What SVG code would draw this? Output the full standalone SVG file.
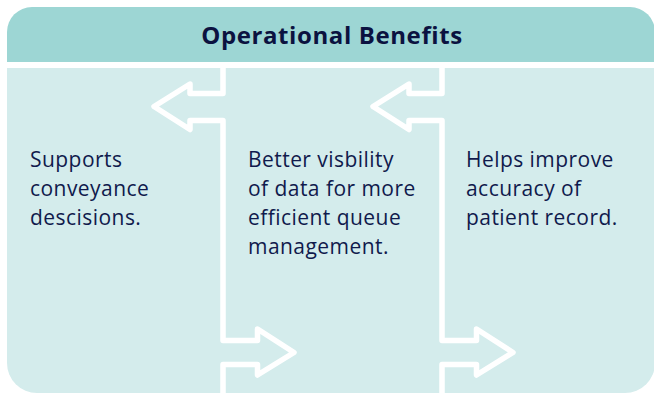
<svg xmlns="http://www.w3.org/2000/svg" width="654" height="394" viewBox="0 0 654 394">
<style>
.hdr{fill:#9dd6d4}
.body{fill:#d4ecec}
.div{fill:none;stroke:#ffffff;stroke-width:5.5;stroke-linejoin:round}
.title{font-family:"Open Sans",sans-serif;font-weight:700;font-size:24px;letter-spacing:0.6px;fill:#0b1240}
.txt{font-family:"Open Sans",sans-serif;font-size:21px;letter-spacing:0.45px;fill:#101a4c}
</style>
<rect width="654" height="394" fill="#ffffff"/>
<g id="header">
<path class="hdr" d="M7,62 V32 A25,25 0 0 1 32,7 H630 A25,25 0 0 1 655,32 V62 Z"/>
<text class="title" x="332" y="44" text-anchor="middle">Operational Benefits</text>
</g>
<path class="body" d="M7,68 H655 V363 A30,30 0 0 1 625,393 H37 A30,30 0 0 1 7,363 Z"/>
<g id="connectors">
<path class="div" d="M223,68 V93.5 H190 V84 L154,106.5 L190,129.5 V120.5 H223 V340.5 H257.5 V329 L294,352.5 L257.5,375 V364.5 H223 V394"/>
<path class="div" d="M442,68 V93.5 H409 V84 L373,106.5 L409,129.5 V120.5 H442 V340.5 H476.5 V329 L513,352.5 L476.5,375 V364.5 H442 V394"/>
</g>
<g id="col1">
<text class="txt" x="30" y="167">Supports</text>
<text class="txt" x="30" y="196">conveyance</text>
<text class="txt" x="30" y="225">descisions.</text>
</g>
<g id="col2">
<text class="txt" x="248" y="167">Better visbility</text>
<text class="txt" x="248" y="196">of data for more</text>
<text class="txt" x="248" y="225">efficient queue</text>
<text class="txt" x="248" y="254">management.</text>
</g>
<g id="col3">
<text class="txt" x="466" y="167">Helps improve</text>
<text class="txt" x="466" y="196">accuracy of</text>
<text class="txt" x="466" y="225">patient record.</text>
</g>
</svg>
